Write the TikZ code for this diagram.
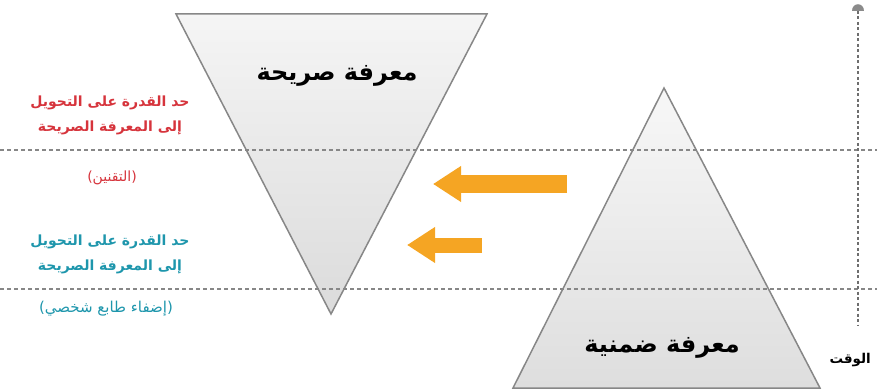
\documentclass[tikz,border=0pt]{standalone}
\usepackage{fontspec}
\usepackage{tikz}
\usetikzlibrary{arrows.meta, positioning, calc}
\newfontfamily\arabicfont[Script=Arabic]{DejaVu Sans}
\TeXXeTstate=1
\definecolor{redText}{RGB}{214, 52, 60}
\definecolor{tealText}{RGB}{30, 150, 172}
\definecolor{arrowOrange}{RGB}{245, 165, 35}
\definecolor{edgeGray}{RGB}{135, 135, 135}
\definecolor{axisGray}{RGB}{110, 110, 110}

\begin{document}
\begin{tikzpicture}[x=1pt, y=-1pt,
    levelLine/.style={edgeGray, line width=1.1pt, dash pattern=on 4pt off 3pt},
    bigArrow/.style={arrowOrange, line width=#1, -{Triangle[length=28pt, width=34pt]}},
    limitText/.style={font=\arabicfont\bfseries\fontsize{14}{25}\selectfont, align=center},
    noteText/.style={font=\arabicfont\fontsize{14}{16}\selectfont}]
\useasboundingbox (0,0) rectangle (877,390);
% triangles
\draw[edgeGray, line width=1.5pt, top color=gray!8, bottom color=gray!28]
    (176,14) -- (487,14) -- (331,314) -- cycle;
\draw[edgeGray, line width=1.5pt, top color=gray!6, bottom color=gray!26]
    (664,88) -- (820,388) -- (513,388) -- cycle;
\node[font=\arabicfont\bfseries\fontsize{24}{28}\selectfont] (explicit) at (337,76) {\beginR معرفة صريحة\endR};
\node[font=\arabicfont\bfseries\fontsize{24}{28}\selectfont] (tacit) at (662,348) {\beginR معرفة ضمنية\endR};
% levels
\draw[levelLine] (0,150) -- (877,150);
\draw[levelLine] (0,289) -- (877,289);
% time axis
\coordinate (axisTop) at (858,11);
\coordinate (axisEnd) at (858,326);
\draw[axisGray, line width=2pt, dash pattern=on 3pt off 2.5pt] (axisTop) -- (axisEnd);
\fill[axisGray!80] (852,11) .. controls (852,2) and (864,2) .. (864,11) -- cycle;
\node[font=\arabicfont\bfseries\fontsize{13.5}{15}\selectfont, anchor=west] (time) at (826,360) {\beginR الوقت\endR};
% labels
\node[limitText, text=redText] (limitRed) at (110,115)
    {\beginR حد القدرة على التحويل\endR\\\beginR إلى المعرفة الصريحة\endR};
\node[noteText, text=redText] (codify) at (112,178) {\beginR(التقنين)\endR};
\node[limitText, text=tealText] (limitTeal) at (110,254)
    {\beginR حد القدرة على التحويل\endR\\\beginR إلى المعرفة الصريحة\endR};
\node[noteText, text=tealText, font=\arabicfont\fontsize{15}{17}\selectfont] (personal) at (106,309) {\beginR(إضفاء طابع شخصي)\endR};
% arrows
\coordinate (arrowA) at (567,184);
\coordinate (arrowAend) at (433,184);
\coordinate (arrowB) at (482,245);
\coordinate (arrowBend) at (407,245);
\draw[bigArrow=18pt] (arrowA) -- (arrowAend);
\draw[bigArrow=15pt] (arrowB) -- (arrowBend);
\end{tikzpicture}
\end{document}
